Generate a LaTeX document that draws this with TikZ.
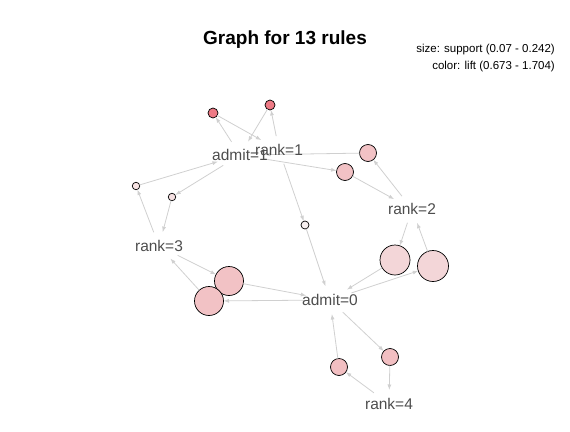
\documentclass[tikz,border=0pt]{standalone}
\usepackage{fontspec}
\setmainfont{Liberation Sans}
\usetikzlibrary{arrows.meta,shapes.geometric}
\definecolor{edgegray}{HTML}{D0D0D0}
\definecolor{labgray}{HTML}{4D4D4D}
\definecolor{cred}{HTML}{EE7A85}
\definecolor{cpinkA}{HTML}{F2C2C5}
\definecolor{cpinkB}{HTML}{F3D6D8}
\definecolor{cpinkC}{HTML}{F2BFC2}
\definecolor{cpaleA}{HTML}{F8E4E4}
\definecolor{cpaleB}{HTML}{F5E0E2}
\definecolor{cpaleC}{HTML}{F7F0F0}
\tikzset{
  itemlab/.style={ellipse,minimum width=50pt,minimum height=28pt,inner sep=0pt,outer sep=0pt},
  itemtxt/.style={inner sep=0pt,text=labgray,font=\fontsize{15.5}{17}\selectfont},
  rulec/.style={circle,draw=black,line width=0.7pt,inner sep=0pt,outer sep=0pt,minimum size=#1},
  edge/.style={draw=edgegray,line width=0.8pt,-{Latex[length=5.5pt,width=4pt]}},
}
\begin{document}
\begin{tikzpicture}[x=1pt,y=-1pt]
\useasboundingbox (0,0) rectangle (570,431);
% item (label) vertices
\node[itemlab] (a1) at (240,155) {};
\node[itemlab] (r1) at (279,150) {};
\node[itemlab] (r2) at (412,209) {};
\node[itemlab] (r3) at (159,246) {};
\node[itemlab] (a0) at (330,300) {};
\node[itemlab] (r4) at (389,404) {};
% rule vertices
\node[rulec=10pt,fill=cred] (c1) at (213,113) {};
\node[rulec=10pt,fill=cred] (c2) at (270,105) {};
\node[rulec=17pt,fill=cpinkA] (c3) at (368,153) {};
\node[rulec=17pt,fill=cpinkA] (c4) at (345,172) {};
\node[rulec=7.5pt,fill=cpaleA] (c5) at (136,186) {};
\node[rulec=7.5pt,fill=cpaleB] (c6) at (172,197) {};
\node[rulec=8pt,fill=cpaleC] (c7) at (305,225) {};
\node[rulec=30pt,fill=cpinkB] (c8) at (395,260) {};
\node[rulec=31pt,fill=cpinkB] (c9) at (433,266) {};
\node[rulec=29pt,fill=cpinkA] (c10) at (229,281) {};
\node[rulec=29pt,fill=cpinkA] (c11) at (209,301) {};
\node[rulec=17pt,fill=cpinkC] (c12) at (390,357) {};
\node[rulec=17pt,fill=cpinkC] (c13) at (339,367) {};
% edges
\draw[edge] (a1) -- (c1);  \draw[edge] (c1) -- (r1);
\draw[edge] (r1) -- (c2);  \draw[edge] (c2) -- (a1);
\draw[edge] (r2) -- (c3);  \draw[edge] (c3) -- (a1);
\draw[edge] (a1) -- (c4);  \draw[edge] (c4) -- (r2);
\draw[edge] (r3) -- (c5);  \draw[edge] (c5) -- (a1);
\draw[edge] (a1) -- (c6);  \draw[edge] (c6) -- (r3);
\draw[edge] (r1) -- (c7);  \draw[edge] (c7) -- (a0);
\draw[edge] (r2) -- (c8);  \draw[edge] (c8) -- (a0);
\draw[edge] (a0) -- (c9);  \draw[edge] (c9) -- (r2);
\draw[edge] (r3) -- (c10); \draw[edge] (c10) -- (a0);
\draw[edge] (a0) -- (c11); \draw[edge] (c11) -- (r3);
\draw[edge] (a0) -- (c12); \draw[edge] (c12) -- (r4);
\draw[edge] (r4) -- (c13); \draw[edge] (c13) -- (a0);
% item texts
\node[itemtxt] (a1t) at (a1) {admit=1};
\node[itemtxt] (r1t) at (r1) {rank=1};
\node[itemtxt] (r2t) at (r2) {rank=2};
\node[itemtxt] (r3t) at (r3) {rank=3};
\node[itemtxt] (a0t) at (a0) {admit=0};
\node[itemtxt] (r4t) at (r4) {rank=4};
% title and legend
\node[font=\fontsize{19}{22}\selectfont\bfseries] (title) at (285,40) {Graph for 13 rules};
\node[anchor=east,inner sep=0pt,font=\fontsize{11.5}{13}\selectfont] (leg1) at (555,50) {size: support (0.07 - 0.242)};
\node[anchor=east,inner sep=0pt,font=\fontsize{11.5}{13}\selectfont] (leg2) at (555,67) {color: lift (0.673 - 1.704)};
\end{tikzpicture}
\end{document}
